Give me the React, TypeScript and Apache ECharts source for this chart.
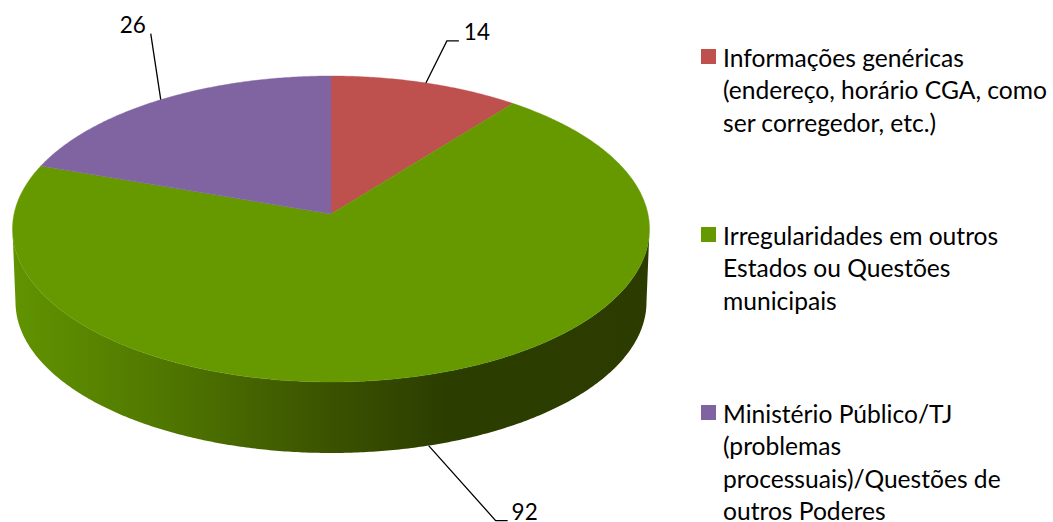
import React, { useEffect, useRef } from "react";
import * as echarts from "echarts";

const categories = [
  ["Informações genéricas", "(endereço, horário CGA, como", "ser corregedor, etc.)"],
  ["Irregularidades em outros", "Estados ou Questões", "municipais"],
  ["Ministério Público/TJ", "(problemas", "processuais)/Questões de", "outros Poderes"],
];
const values = [14, 92, 26];
const colors = ["#BE504E", "#669900", "#8064A2"];
const total = values.reduce((a, b) => a + b, 0);

const TOP = { cx: 331, cy: 229, rx: 318.5, ry: 153 };
const BOTTOM = { cx: 331, cy: 302, rx: 315.5, ry: 151 };
const TILT = 15 / 153; // apex sits above the ellipse centre (perspective)
const LEGEND_X = 701;
const LEGEND_Y = [49, 227, 405];
const FONT = "Lato, Carlito, Calibri, sans-serif";
const LABEL_SIZE = 22.5;
const LEGEND_SIZE = 24.6;
const LINE_HEIGHT = 32.5;

// elbow and end of each leader line, relative to its anchor, and label centre
const leaders = [
  { elbow: [21, -42], end: [33, -42], label: [51, -51], rim: "top" },
  { elbow: [67, 75], end: [79, 75], label: [96, 66], rim: "bottom" },
  { elbow: [-10, -66], end: [-10, -66], label: [-28, -75], rim: "top" },
];

function project(theta: number) {
  const u = Math.sin(theta);
  const v = Math.cos(theta);
  const d = 1 + TILT * v;
  return { u: (u * Math.sqrt(1 - TILT * TILT)) / d, v: (v + TILT) / d };
}
const onEllipse = (p: { u: number; v: number }, e: typeof TOP): number[] => [
  e.cx + p.u * e.rx,
  e.cy - p.v * e.ry,
];

const sideGradient = {
  type: "linear",
  x: 15,
  y: 0,
  x2: 650,
  y2: 0,
  global: true,
  colorStops: [
    { offset: 0, color: "#619300" },
    { offset: 0.25, color: "#4f7500" },
    { offset: 0.5, color: "#3a5200" },
    { offset: 0.68, color: "#2c3d00" },
    { offset: 1, color: "#2c3c00" },
  ],
};

function renderItem(params: any, api: any) {
  const i = params.dataIndex;
  const before = values.slice(0, i).reduce((a, b) => a + b, 0);
  const start = (before / total) * Math.PI * 2;
  const end = ((before + api.value(0)) / total) * Math.PI * 2;
  const steps = Math.ceil(((end - start) * 180) / Math.PI) * 2;
  const samples: { u: number; v: number }[] = [];
  for (let s = 0; s <= steps; s++) samples.push(project(start + ((end - start) * s) / steps));

  const centre = [TOP.cx, TOP.cy - TILT * TOP.ry];
  const children: any[] = [];

  // visible front wall
  const front = samples.filter((p) => p.v <= 0);
  if (front.length > 1) {
    const pts = [
      ...front.map((p) => onEllipse(p, TOP)),
      ...front.slice().reverse().map((p) => onEllipse(p, BOTTOM)),
    ];
    children.push({ type: "polygon", shape: { points: pts }, style: { fill: sideGradient } });
  }
  // top face
  children.push({
    type: "polygon",
    shape: { points: [centre, ...samples.map((p) => onEllipse(p, TOP))] },
    style: { fill: colors[i], stroke: colors[i], lineWidth: 0.4 },
  });
  // leader + value label
  const mid = project((start + end) / 2);
  const l = leaders[i];
  const a = onEllipse(mid, l.rim === "top" ? TOP : BOTTOM);
  children.push({
    type: "polyline",
    shape: {
      points: [a, [a[0] + l.elbow[0], a[1] + l.elbow[1]], [a[0] + l.end[0], a[1] + l.end[1]]],
    },
    style: { stroke: "#000", lineWidth: 1.3, fill: "none" },
    z2: 5,
  });
  children.push({
    type: "text",
    x: a[0] + l.label[0],
    y: a[1] + l.label[1],
    style: {
      text: String(api.value(0)),
      fill: "#000",
      font: `${LABEL_SIZE}px ${FONT}`,
      align: "center",
      verticalAlign: "middle",
    },
    z2: 5,
  });
  return { type: "group", children };
}

export default function App() {
  const ref = useRef<HTMLDivElement>(null);
  useEffect(() => {
    document.body.style.margin = "0";
    const chart = echarts.init(ref.current!, null, { renderer: "svg" });
    chart.setOption({
      animation: false,
      backgroundColor: "#fff",
      series: [
        {
          type: "custom",
          coordinateSystem: "none",
          renderItem,
          data: values.map((v, i) => ({ name: categories[i].join(" "), value: [v] })),
        },
      ],
      graphic: categories.flatMap((lines, i) => [
        {
          type: "rect",
          shape: { x: LEGEND_X, y: LEGEND_Y[i], width: 15, height: 15 },
          style: { fill: colors[i] },
        },
        ...lines.map((line, k) => ({
          type: "text",
          x: LEGEND_X + 22,
          y: LEGEND_Y[i] + 8 + k * LINE_HEIGHT,
          style: {
            text: line,
            fill: "#000",
            font: `${LEGEND_SIZE}px ${FONT}`,
            align: "left",
            verticalAlign: "middle",
          },
        })),
      ]),
    });
    return () => chart.dispose();
  }, []);
  return <div ref={ref} style={{ width: 1053, height: 522 }} />;
}
